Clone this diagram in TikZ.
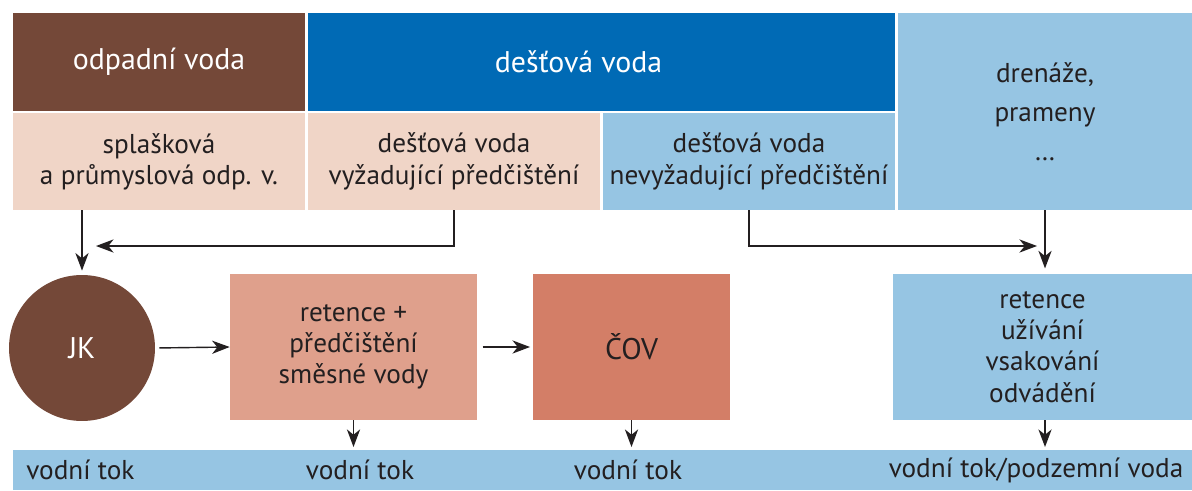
\documentclass[tikz,border=0pt]{standalone}
\usepackage{fontspec}
\setmainfont{PT Sans}
\usetikzlibrary{arrows.meta,positioning,calc}

\definecolor{wastebrown}{HTML}{744838}
\definecolor{rainblue}{HTML}{006AB5}
\definecolor{lightblue}{HTML}{96C5E3}
\definecolor{lightpink}{HTML}{F0D5C7}
\definecolor{mixpink}{HTML}{DFA08C}
\definecolor{covred}{HTML}{D37E67}
\definecolor{ink}{HTML}{231F20}

\tikzset{
  cell/.style={rectangle, inner sep=0pt, align=center, text=ink,
    font=\fontsize{15.5}{17.8}\selectfont},
  head/.style={cell, text=white, minimum height=1.96cm,
    font=\fontsize{17}{20}\selectfont},
  flow/.style={draw=ink, line width=0.8pt,
    -{Stealth[length=10pt, width=7.5pt, inset=3pt]}}
}

\begin{document}
\begin{tikzpicture}[x=0.02cm, y=-0.02cm]
    \useasboundingbox (0,0) rectangle (1192,490);

    % Header row
    \node [head, fill=wastebrown, minimum width=5.84cm] (waste) at (159,62) {odpadní voda};
    \node [head, fill=rainblue, minimum width=11.74cm] (rain) at (601.5,62) {};
    \node [head] at ([xshift=-0.46cm]rain.center) {dešťová voda};
    \node [cell, fill=lightblue, minimum width=5.88cm, minimum height=3.94cm] (drain) at (1045,111.5)
        {drenáže,\\[4.5pt] prameny\\[4.5pt] \dots};

    % Second row
    \node [cell, fill=lightpink, minimum width=5.84cm, minimum height=1.94cm] (sewage) at (159,161.5)
        {splašková\\ a průmyslová odp. v.};
    \node [cell, fill=lightpink, minimum width=5.84cm, minimum height=1.94cm] (dirty) at (454,161.5)
        {dešťová voda\\ vyžadující předčištění};
    \node [cell, fill=lightblue, minimum width=5.84cm, minimum height=1.94cm] (clean) at (749,161.5)
        {dešťová voda\\ nevyžadující předčištění};

    % Treatment row
    \node [cell, circle, fill=wastebrown, text=white, minimum size=2.92cm,
        font=\fontsize{17}{20}\selectfont] (jk) at (82,348) {JK};
    \node [cell, fill=mixpink, minimum width=4.94cm, minimum height=2.92cm] (mix) at (353.5,347)
        {retence +\\ předčištění\\ směsné vody};
    \node [cell, fill=covred, minimum width=3.94cm, minimum height=2.92cm,
        font=\fontsize{17}{20}\selectfont] (cov) at (631.5,347) {ČOV};
    \node [cell, fill=lightblue, minimum width=5.98cm, minimum height=2.92cm] (keep) at (1042.5,347)
        {retence\\ užívání\\ vsakování\\ odvádění};

    % Receiving water
    \node [cell, fill=lightblue, minimum width=23.58cm, minimum height=0.8cm] (river) at (602.5,470) {};
    \node [cell, anchor=west] (riverA) at (26,470) {vodní tok};
    \node [cell] (riverB) at (360,470) {vodní tok};
    \node [cell] (riverC) at (628,470) {vodní tok};
    \node [cell] (riverD) at (1036,470) {vodní tok/podzemní voda};

    % Arrows
    \coordinate (intoJK) at (96,246);
    \coordinate (intoKeep) at (1037,246);
    \draw [flow, shorten >=2.3pt] (jk.north |- sewage.south) -- (jk.north);
    \draw [flow] (dirty.south) |- (intoJK);
    \draw [flow] (clean.south) |- (intoKeep);
    \draw [flow, shorten >=3pt] (drain.south) -- (drain.south |- keep.north);
    \draw [flow, shorten <=2.3pt] (jk.east) -- (mix.west);
    \draw [flow, shorten <=3pt, shorten >=1.5pt] (mix.east) -- (cov.west);
    \draw [flow, shorten >=1.5pt] (mix.south) -- (mix.south |- river.north);
    \draw [flow, shorten >=1.5pt] (cov.south) -- (cov.south |- river.north);
    \draw [flow, shorten >=1.5pt] (drain.south |- keep.south) -- (drain.south |- river.north);
\end{tikzpicture}
\end{document}
